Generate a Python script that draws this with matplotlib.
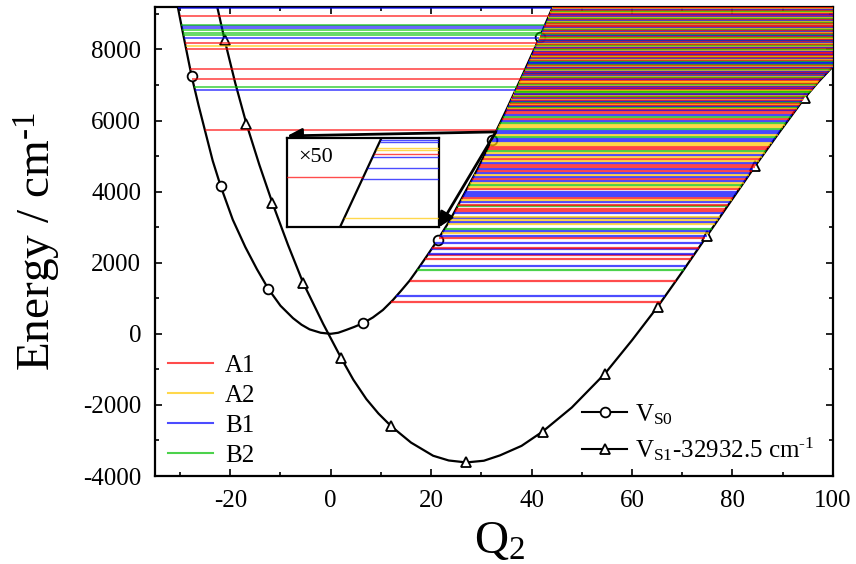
import numpy as np
import matplotlib
matplotlib.use('Agg')
import matplotlib.pyplot as plt
from matplotlib.lines import Line2D
from matplotlib.ticker import MultipleLocator

plt.rcParams['font.family'] = ['Liberation Serif', 'DejaVu Serif']
plt.rcParams['mathtext.fontset'] = 'custom'
plt.rcParams['mathtext.rm'] = 'Liberation Serif'
plt.rcParams['mathtext.it'] = 'Liberation Serif:italic'
plt.rcParams['axes.unicode_minus'] = False

# potential curves, Q2 and energy in cm-1
s0_q = [-31, -30, -28.7, -27.7, -26.3, -25, -23.5, -21.9, -19.5, -17, -14.7, -12.4, -10,
        -7.5, -5.8, -4.2, -2, 0, 1.5, 3.1, 4.7, 6.4, 8.4, 10.4, 12.4, 14, 15.7, 17.4,
        19.3, 21.3, 23.8, 26.4, 29.2, 32.1, 35, 38.3, 41.6, 45]
s0_e = [9600, 8870, 7950, 7250, 6420, 5700, 4870, 4150, 3210, 2440, 1820, 1260, 790,
        440, 255, 125, 30, 0, 30, 110, 195, 297, 460, 671, 952, 1210, 1494, 1830,
        2220, 2640, 3210, 3890, 4624, 5450, 6305, 7311, 8340, 9450]
s1_q = [-23.5, -22.6, -21.1, -19, -16.8, -14.2, -11.6, -8.5, -5.5, -1.5, 2.1, 4.5, 7.1,
        9.5, 12.1, 16, 20.4, 23.5, 27.0, 30.5, 33.7, 38, 42.2, 48, 54.6, 60, 65.1, 70,
        74.9, 79.7, 84.5, 89.5, 94.4, 97.2, 100]
s1_e = [9800, 9200, 8256, 7050, 5916, 4750, 3677, 2500, 1438, 280, -686, -1290, -1836,
        -2241, -2607, -3060, -3430, -3563, -3618, -3570, -3420, -3152, -2750, -2074, -1121,
        -180, 761, 1741, 2750, 3733, 4716, 5700, 6640, 7100, 7520]

# symbols on the curves
s0_mark_q = [-27.7, -21.9, -12.4, 6.4, 21.3, 32.1, 41.6]
s0_mark_e = [7250, 4150, 1260, 297, 2640, 5450, 8340]
s1_mark_q = [-21.1, -16.8, -11.6, -5.5, 2.1, 12.1, 27.0, 42.2, 54.6, 65.1, 74.9, 84.5, 94.4]
s1_mark_e = [8256, 5916, 3677, 1438, -686, -2607, -3618, -2750, -1121, 761, 2750, 4716, 6640]

symmetries = ['A1', 'A2', 'B1', 'B2']
sym_colors = ['#ff0000', '#ffc800', '#0000ff', '#00c000']

# levels between the S0 right branch and the S1 right branch
dense_e = [905, 1065, 1494, 1795, 1907, 2095, 2220, 2236, 2376, 2421,
           2545, 2685, 2758, 2826, 2890, 2955, 3096, 3143, 3199, 3247,
           3292, 3404, 3452, 3508, 3584, 3630, 3697, 3761, 3809, 3874,
           3930, 3994,
           4070, 4135, 4191, 4247, 4303, 4360, 4416, 4472, 4528, 4585,
           4641, 4697, 4753, 4810, 4866, 4922, 4978, 5035, 5091, 5147,
           5203, 5260, 5316, 5372, 5428, 5484, 5541, 5597, 5653, 5709,
           5766, 5822, 5878, 5934, 5990, 6047, 6103, 6159, 6215, 6272,
           6300, 6326, 6355, 6381, 6410, 6437, 6462, 6490, 6518, 6545,
           6571, 6600, 6627, 6652, 6680, 6708, 6733, 6760, 6789, 6815,
           6842, 6870, 6896, 6922, 6950, 6977, 7003, 7030, 7058, 7084,
           7110, 7137, 7165, 7190, 7216, 7244, 7270, 7297, 7323, 7350,
           7378, 7404, 7430, 7457, 7484, 7510, 7536, 7563, 7590, 7616,
           7642, 7669, 7696, 7722, 7748, 7775, 7802, 7828, 7854, 7881,
           7908, 7934, 7960, 7987, 8014, 8040, 8066, 8093, 8120, 8146,
           8172, 8199, 8226, 8252, 8278, 8305, 8332, 8358, 8384, 8411,
           8438, 8464, 8490, 8517, 8544, 8570, 8596, 8623, 8650, 8676,
           8702, 8729, 8756, 8782, 8808, 8835, 8862, 8888, 8914, 8941,
           8968, 8994, 9020, 9047, 9074, 9100, 9126, 9153, 9180]
dense_sym = ("0203200220" "2021231212" "1200302102" "22"
             "0131202120" "2002101213" "0011223122" "3113203200"
             "2013201032" "0120310213" "3102021301" "1020312032"
             "0213021032" "2301203102" "0021302130" "1203201302"
             "3012031200" "2103120312" "020130210")

# levels inside the S0 well (left branch to right branch)
well_e = [5728, 6871, 6944, 7180, 7461, 8003, 8096, 8191, 8320, 8416,
          8472, 8536, 8601, 8657, 8696, 8938, 9174]
well_sym = "02300010233322302"

# x50 magnified window
inset_dense_e = [5635, 5657, 5663, 5669, 5671, 5673.4, 5674.4, 5677.5, 5678.6]
inset_dense_sym = "122201122"
inset_well_e = [5658]
inset_well_sym = "0"
inset_window = (5630, 5680)

assert len(dense_e) == len(dense_sym)
assert len(well_e) == len(well_sym)

s0_q = np.array(s0_q); s0_e = np.array(s0_e)
s1_q = np.array(s1_q); s1_e = np.array(s1_e)
r0 = s0_q >= 0
l0 = s0_q <= 0
r1 = s1_q >= 27


def s0_right(e):
    return np.interp(e, s0_e[r0], s0_q[r0])


def s0_left(e):
    return np.interp(e, s0_e[l0][::-1], s0_q[l0][::-1])


def s1_right(e):
    return np.interp(e, s1_e[r1], s1_q[r1])


def draw_levels(ax, energies, syms, kind, lw):
    e = np.array(energies, dtype=float)
    cols = [sym_colors[int(c)] for c in syms]
    if kind == 'dense':
        x0, x1 = s0_right(e), s1_right(e)
    else:
        x0, x1 = s0_left(e), s0_right(e)
    ax.hlines(e, x0, x1, colors=cols, lw=lw, alpha=0.7, zorder=3)


fig = plt.figure(figsize=(8.56, 5.64), dpi=100)
ax = fig.add_axes([0.181, 0.156, 0.792, 0.832])

ax.plot(s0_q, s0_e, color='k', lw=1.6, zorder=2)
ax.plot(s1_q, s1_e, color='k', lw=1.6, zorder=2)
ax.plot(s0_mark_q, s0_mark_e, 'o', ms=7, mfc='white', mec='k', mew=1.3, zorder=2)
ax.plot(s1_mark_q, s1_mark_e, '^', ms=7, mfc='white', mec='k', mew=1.3, zorder=2)

draw_levels(ax, well_e, well_sym, 'well', 1.2)
draw_levels(ax, dense_e, dense_sym, 'dense', 1.6)

ax.set_xlim(-35, 100)
ax.set_ylim(-4000, 9200)
ax.xaxis.set_major_locator(MultipleLocator(20))
ax.xaxis.set_minor_locator(MultipleLocator(10))
ax.yaxis.set_major_locator(MultipleLocator(2000))
ax.yaxis.set_minor_locator(MultipleLocator(1000))
ax.tick_params(which='both', direction='in', top=True, right=True, labelsize=18, pad=10)
ax.tick_params(which='major', length=5, width=1.2)
ax.tick_params(which='minor', length=3, width=1.2)
for sp in ax.spines.values():
    sp.set_linewidth(1.6)

ax.set_xlabel(r'Q$_{\mathrm{2}}$', fontsize=34)
ax.set_ylabel(r'Energy / cm$^{\text{-1}}$', fontsize=34)
ax.xaxis.set_label_coords(0.509, -0.095)
ax.yaxis.set_label_coords(-0.136, 0.5)

# legends
sym_handles = [Line2D([], [], color=c, lw=1.5, alpha=0.7) for c in sym_colors]
leg1 = ax.legend(sym_handles, symmetries, loc='lower left', bbox_to_anchor=(0.02, 0.02),
                 frameon=False, fontsize=18, handlelength=1.8, handletextpad=0.45,
                 labelspacing=0.3, borderpad=0, borderaxespad=0)
ax.add_artist(leg1)
curve_handles = [Line2D([], [], color='k', lw=1.5, marker='o', ms=7, mfc='white', mew=1.3),
                 Line2D([], [], color='k', lw=1.5, marker='^', ms=7, mfc='white', mew=1.3)]
ax.legend(curve_handles, [r'V$_{\mathrm{S0}}$', r'V$_{\mathrm{S1}}$-32932.5 cm$^{\text{-1}}$'],
          loc='lower left', bbox_to_anchor=(0.63, 0.027), frameon=False, fontsize=18,
          handlelength=1.8, handletextpad=0.3, labelspacing=0.35, borderpad=0, borderaxespad=0)

# magnified window
ins = fig.add_axes([0.3356, 0.597, 0.1772, 0.1589])
e_lo, e_hi = inset_window
q_lo, q_hi = s0_right(e_lo), s0_right(e_hi)
w = (q_hi - q_lo) / 0.275
ins.set_xlim(q_lo - 0.347 * w, q_lo + 0.653 * w)
ins.set_ylim(e_lo, e_hi)
ins.plot(s0_q, s0_e, color='k', lw=1.6, zorder=2)
draw_levels(ins, inset_dense_e, inset_dense_sym, 'dense', 1.0)
draw_levels(ins, inset_well_e, inset_well_sym, 'well', 1.0)
ins.set_xticks([])
ins.set_yticks([])
for sp in ins.spines.values():
    sp.set_linewidth(1.6)
ins.text(0.07, 0.78, '×50', transform=ins.transAxes, fontsize=16, va='center')

# arrows from the magnified spot to the window
e_spot = e_hi
q_spot = s0_right(e_spot)
for corner in [(0.0, 1.02), (1.0, 0.0)]:
    ax.annotate('', xy=corner, xycoords=ins.transAxes, xytext=(q_spot, e_spot),
                textcoords='data',
                arrowprops=dict(arrowstyle='-|>', color='k', lw=2, mutation_scale=22,
                                shrinkA=0, shrinkB=0), zorder=6)

fig.savefig('out.png', dpi=100)
